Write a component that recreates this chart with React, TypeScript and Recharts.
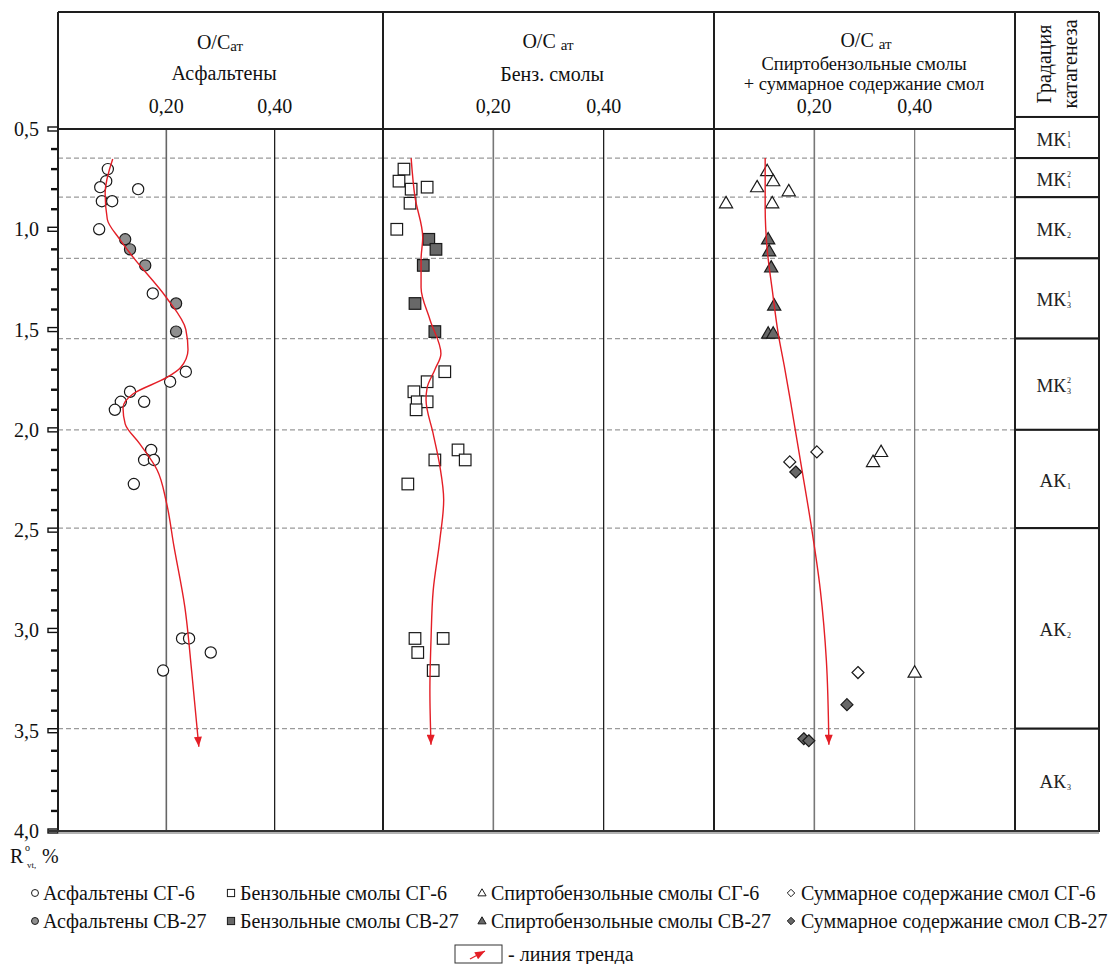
import React from 'react';
import { ScatterChart, Scatter, XAxis, YAxis, ReferenceLine, ReferenceArea } from 'recharts';

const SERIF = 'Liberation Serif, Times New Roman, serif';

// R°vt ticks (every 0.1, labelled every 0.5)
const yTicks = [
  0.5, 0.6, 0.7, 0.8, 0.9, 1.0, 1.1, 1.2, 1.3, 1.4, 1.5, 1.6, 1.7, 1.8, 1.9, 2.0, 2.1, 2.2,
  2.3, 2.4, 2.5, 2.6, 2.7, 2.8, 2.9, 3.0, 3.1, 3.2, 3.3, 3.4, 3.5, 3.6, 3.7, 3.8, 3.9, 4.0,
];
const xTicks = [0.2, 0.4];

// catagenesis zone boundaries (dashed lines)
const zoneBounds = [0.645, 0.84, 1.145, 1.545, 2.0, 2.49, 3.49];
const zoneName = ['МК', 'МК', 'МК', 'МК', 'МК', 'АК', 'АК', 'АК'];
const zoneSub = ['1', '1', '2', '3', '3', '1', '2', '3'];
const zoneSup = ['1', '2', '', '1', '2', '', '', ''];
const zoneTop = [0.44, 0.645, 0.84, 1.145, 1.545, 2.0, 2.49, 3.49];
const zoneBottom = [0.645, 0.84, 1.145, 1.545, 2.0, 2.49, 3.49, 4.0];

// asphaltenes
const asphSG6 = [
  { x: 0.092, r: 0.7 }, { x: 0.089, r: 0.76 }, { x: 0.078, r: 0.79 }, { x: 0.148, r: 0.8 },
  { x: 0.081, r: 0.86 }, { x: 0.1, r: 0.86 }, { x: 0.076, r: 1.0 }, { x: 0.175, r: 1.32 },
  { x: 0.236, r: 1.71 }, { x: 0.207, r: 1.76 }, { x: 0.133, r: 1.81 }, { x: 0.116, r: 1.86 },
  { x: 0.159, r: 1.86 }, { x: 0.105, r: 1.9 }, { x: 0.172, r: 2.1 }, { x: 0.159, r: 2.15 },
  { x: 0.177, r: 2.15 }, { x: 0.14, r: 2.27 }, { x: 0.229, r: 3.04 }, { x: 0.242, r: 3.04 },
  { x: 0.282, r: 3.11 }, { x: 0.194, r: 3.2 },
];
const asphSV27 = [
  { x: 0.124, r: 1.05 }, { x: 0.133, r: 1.1 }, { x: 0.161, r: 1.18 }, { x: 0.218, r: 1.37 },
  { x: 0.218, r: 1.51 },
];
const trendAsph = [
  { x: 0.101, r: 0.65 }, { x: 0.087, r: 0.82 }, { x: 0.091, r: 0.95 }, { x: 0.114, r: 1.05 },
  { x: 0.139, r: 1.14 }, { x: 0.2, r: 1.34 }, { x: 0.236, r: 1.5 }, { x: 0.24, r: 1.6 },
  { x: 0.226, r: 1.69 }, { x: 0.2, r: 1.74 }, { x: 0.139, r: 1.82 }, { x: 0.12, r: 1.89 },
  { x: 0.124, r: 1.97 }, { x: 0.151, r: 2.07 }, { x: 0.183, r: 2.2 }, { x: 0.2, r: 2.36 },
  { x: 0.214, r: 2.58 }, { x: 0.234, r: 2.88 }, { x: 0.247, r: 3.21 }, { x: 0.26, r: 3.58 },
];

// benzene resins
const benzSG6 = [
  { x: 0.038, r: 0.7 }, { x: 0.029, r: 0.76 }, { x: 0.08, r: 0.79 }, { x: 0.051, r: 0.8 },
  { x: 0.049, r: 0.87 }, { x: 0.025, r: 1.0 }, { x: 0.112, r: 1.71 }, { x: 0.08, r: 1.76 },
  { x: 0.056, r: 1.81 }, { x: 0.062, r: 1.86 }, { x: 0.08, r: 1.86 }, { x: 0.06, r: 1.9 },
  { x: 0.136, r: 2.1 }, { x: 0.149, r: 2.15 }, { x: 0.094, r: 2.15 }, { x: 0.045, r: 2.27 },
  { x: 0.058, r: 3.04 }, { x: 0.109, r: 3.04 }, { x: 0.063, r: 3.11 }, { x: 0.091, r: 3.2 },
];
const benzSV27 = [
  { x: 0.083, r: 1.05 }, { x: 0.096, r: 1.1 }, { x: 0.073, r: 1.18 }, { x: 0.058, r: 1.37 },
  { x: 0.094, r: 1.51 },
];
const trendBenz = [
  { x: 0.051, r: 0.645 }, { x: 0.058, r: 0.84 }, { x: 0.072, r: 1.04 }, { x: 0.069, r: 1.15 },
  { x: 0.069, r: 1.29 }, { x: 0.085, r: 1.45 }, { x: 0.105, r: 1.62 }, { x: 0.094, r: 1.7 },
  { x: 0.08, r: 1.79 }, { x: 0.078, r: 1.85 }, { x: 0.091, r: 2.02 }, { x: 0.103, r: 2.18 },
  { x: 0.11, r: 2.35 }, { x: 0.103, r: 2.55 }, { x: 0.091, r: 2.8 }, { x: 0.087, r: 3.05 },
  { x: 0.085, r: 3.3 }, { x: 0.087, r: 3.57 },
];

// alcohol-benzene resins + total resins
const spirtSG6 = [
  { x: 0.106, r: 0.71 }, { x: 0.118, r: 0.76 }, { x: 0.086, r: 0.79 }, { x: 0.149, r: 0.81 },
  { x: 0.024, r: 0.87 }, { x: 0.116, r: 0.87 }, { x: 0.333, r: 2.11 }, { x: 0.317, r: 2.16 },
  { x: 0.4, r: 3.21 },
];
const spirtSV27 = [
  { x: 0.108, r: 1.05 }, { x: 0.11, r: 1.11 }, { x: 0.114, r: 1.19 }, { x: 0.12, r: 1.38 },
  { x: 0.108, r: 1.52 }, { x: 0.118, r: 1.52 },
];
const sumSG6 = [{ x: 0.205, r: 2.11 }, { x: 0.151, r: 2.16 }, { x: 0.287, r: 3.21 }];
const sumSV27 = [
  { x: 0.163, r: 2.21 }, { x: 0.265, r: 3.37 }, { x: 0.179, r: 3.54 }, { x: 0.189, r: 3.55 },
];
const trendSpirt = [
  { x: 0.102, r: 0.645 }, { x: 0.102, r: 0.89 }, { x: 0.106, r: 1.1 }, { x: 0.116, r: 1.3 },
  { x: 0.128, r: 1.52 }, { x: 0.14, r: 1.68 }, { x: 0.154, r: 1.88 }, { x: 0.172, r: 2.15 },
  { x: 0.192, r: 2.45 }, { x: 0.212, r: 2.8 }, { x: 0.224, r: 3.15 }, { x: 0.229, r: 3.57 },
];

const legendRow1 = ['Асфальтены СГ-6', 'Бензольные смолы СГ-6', 'Спиртобензольные смолы СГ-6', 'Суммарное содержание смол СГ-6'];
const legendRow2 = ['Асфальтены СВ-27', 'Бензольные смолы СВ-27', 'Спиртобензольные смолы СВ-27', 'Суммарное содержание смол СВ-27'];
const legendKinds = ['circle', 'square', 'triangle', 'diamond'];

const WHITE = '#ffffff';
const GRAY_CIRCLE = '#8f8f8f';
const GRAY_DARK = '#686868';
const RED = '#e41e26';

const CH = 852;
const MARGIN = { top: 12, right: 0, bottom: 21, left: 0 };

function symbol(kind: string, cx: number, cy: number, s: number, fill: string, sw = 1.2) {
  const stroke = '#1a1a1a';
  if (kind === 'circle') return <circle cx={cx} cy={cy} r={5.6 * s} fill={fill} stroke={stroke} strokeWidth={sw} />;
  if (kind === 'square') {
    const h = 5.8 * s;
    return <rect x={cx - h} y={cy - h} width={2 * h} height={2 * h} fill={fill} stroke={stroke} strokeWidth={sw} />;
  }
  if (kind === 'triangle') {
    const w = 6.6 * s;
    return (
      <polygon
        points={`${cx},${cy - 6.8 * s} ${cx + w},${cy + 4.6 * s} ${cx - w},${cy + 4.6 * s}`}
        fill={fill} stroke={stroke} strokeWidth={sw}
      />
    );
  }
  const d = 6 * s;
  return (
    <polygon points={`${cx},${cy - d} ${cx + d},${cy} ${cx},${cy + d} ${cx - d},${cy}`} fill={fill} stroke={stroke} strokeWidth={sw} />
  );
}

const shapeOf = (kind: string, fill: string) => (p: any) => symbol(kind, p.cx, p.cy, 1, fill);
const noShape = () => <g />;

const fmt = (v: number, digits: number) => v.toFixed(digits).replace('.', ',');

const topTick = (props: any) => (
  <text x={props.x} y={113} textAnchor="middle" fontSize={20} fontFamily={SERIF} fill="#111">
    {fmt(props.payload.value, 2)}
  </text>
);

const yTick = (props: any) => {
  const v = props.payload.value;
  const y = props.y;
  const major = Math.abs(v * 2 - Math.round(v * 2)) < 1e-6;
  if (major) {
    return (
      <g>
        <rect x={48} y={y - 2} width={10} height={4} fill="#fff" stroke="#111" strokeWidth={1.4} />
        <text x={39} y={y + 7} textAnchor="end" fontSize={20} fontFamily={SERIF} fill="#111">
          {fmt(v, 1)}
        </text>
      </g>
    );
  }
  return <rect x={51} y={y - 1.2} width={7} height={2.4} fill="#111" />;
};

function Panel({
  width, withAxis, gridColors, children,
}: { width: number; withAxis: boolean; gridColors: string[]; children: React.ReactNode }) {
  return (
    <ScatterChart width={width} height={CH} margin={MARGIN}>
      <XAxis
        type="number" dataKey="x" domain={[0, 0.6]} ticks={xTicks} orientation="top" height={117}
        axisLine={false} tickLine={false} tick={topTick} allowDataOverflow
      />
      <YAxis
        type="number" dataKey="r" domain={[0.5, 4.0]} reversed ticks={yTicks} interval={0}
        width={withAxis ? 58 : 0} hide={!withAxis} axisLine={false} tickLine={false} tick={yTick}
        allowDataOverflow
      />
      {zoneBounds.map((b) => (
        <ReferenceLine key={b} y={b} stroke="#9a9a9a" strokeDasharray="5 3" strokeWidth={1.2} />
      ))}
      {xTicks.map((t, i) => (
        <ReferenceLine key={t} x={t} stroke={gridColors[i]} strokeWidth={i === 0 ? 1.6 : 1.2} />
      ))}
      {children}
    </ScatterChart>
  );
}

const trendLine = { stroke: RED, strokeWidth: 1.4, markerEnd: 'url(#trendArrow)' };

const zoneShape = (i: number) => (p: any) => {
  const cx = p.x + p.width / 2;
  const cy = p.y + p.height / 2;
  return (
    <g>
      <rect x={p.x} y={p.y} width={p.width} height={p.height} fill="#fff" stroke="#1a1a1a" strokeWidth={2} />
      <text x={cx + 9} y={cy + 8} textAnchor="end" fontSize={19} fontFamily={SERIF} fill="#222">
        {zoneName[i]}
      </text>
      {zoneSup[i] && (
        <text x={cx + 10} y={cy - 1} fontSize={8} fontFamily={SERIF} fill="#222">{zoneSup[i]}</text>
      )}
      <text x={cx + 10} y={cy + 10} fontSize={8} fontFamily={SERIF} fill="#222">{zoneSub[i]}</text>
    </g>
  );
};

// anchor points so the zone column gets real scales
const zoneAnchors = zoneBottom.map((b) => ({ x: 0.5, r: b }));

const legendMarkerX = [35, 231, 482, 791];
const legendTextX = [43, 240, 491, 801];

export default function App() {
  return (
    <div style={{ position: 'absolute', left: 0, top: 0, width: 1115, height: 964, background: '#fff', fontFamily: SERIF }}>
      <svg width={0} height={0} style={{ position: 'absolute' }}>
        <defs>
          <marker id="trendArrow" viewBox="0 0 10 8" refX={10} refY={4} markerWidth={11} markerHeight={8}
            markerUnits="userSpaceOnUse" orient="auto">
            <path d="M0,0 L10,4 L0,8 z" fill={RED} />
          </marker>
        </defs>
      </svg>

      <div style={{ position: 'absolute', left: 0, top: 0 }}>
        <Panel width={383} withAxis gridColors={['#666', '#111']}>
          <Scatter data={asphSG6} shape={shapeOf('circle', WHITE)} isAnimationActive={false} />
          <Scatter data={asphSV27} shape={shapeOf('circle', GRAY_CIRCLE)} isAnimationActive={false} />
          <Scatter data={trendAsph} shape={noShape} line={trendLine} lineJointType="monotoneY" isAnimationActive={false} />
        </Panel>
      </div>
      <div style={{ position: 'absolute', left: 383, top: 0 }}>
        <Panel width={331} withAxis={false} gridColors={['#777', '#111']}>
          <Scatter data={benzSG6} shape={shapeOf('square', WHITE)} isAnimationActive={false} />
          <Scatter data={benzSV27} shape={shapeOf('square', GRAY_DARK)} isAnimationActive={false} />
          <Scatter data={trendBenz} shape={noShape} line={trendLine} lineJointType="monotoneY" isAnimationActive={false} />
        </Panel>
      </div>
      <div style={{ position: 'absolute', left: 714, top: 0 }}>
        <Panel width={301} withAxis={false} gridColors={['#777', '#777']}>
          <Scatter data={spirtSG6} shape={shapeOf('triangle', WHITE)} isAnimationActive={false} />
          <Scatter data={spirtSV27} shape={shapeOf('triangle', GRAY_DARK)} isAnimationActive={false} />
          <Scatter data={sumSG6} shape={shapeOf('diamond', WHITE)} isAnimationActive={false} />
          <Scatter data={sumSV27} shape={shapeOf('diamond', GRAY_DARK)} isAnimationActive={false} />
          <Scatter data={trendSpirt} shape={noShape} line={trendLine} lineJointType="monotoneY" isAnimationActive={false} />
        </Panel>
      </div>
      <div style={{ position: 'absolute', left: 1015, top: 0 }}>
        <ScatterChart width={84} height={CH} margin={{ top: 129, right: 0, bottom: 21, left: 0 }}>
          <XAxis type="number" dataKey="x" domain={[0, 1]} hide />
          <YAxis type="number" dataKey="r" domain={[0.5, 4.0]} reversed hide width={0} allowDataOverflow />
          {zoneTop.map((t, i) => (
            <ReferenceArea key={i} y1={t} y2={zoneBottom[i]} ifOverflow="visible" shape={zoneShape(i)} />
          ))}
          <Scatter data={zoneAnchors} shape={noShape} isAnimationActive={false} />
        </ScatterChart>
      </div>

      <svg width={1115} height={964} style={{ position: 'absolute', left: 0, top: 0, pointerEvents: 'none' }}
        fontFamily={SERIF} fill="#111">
        {/* frame */}
        <g stroke="#1e1e1e" strokeWidth={2} fill="none">
          <line x1={58} y1={12} x2={1099} y2={12} />
          <line x1={58} y1={129} x2={1015} y2={129} />
          <line x1={58} y1={12} x2={58} y2={832} />
          <line x1={383} y1={12} x2={383} y2={832} />
          <line x1={714} y1={12} x2={714} y2={832} />
          <line x1={1015} y1={12} x2={1015} y2={832} />
          <line x1={1099} y1={12} x2={1099} y2={832} />
        </g>
        <line x1={48} y1={831} x2={1099} y2={831} stroke="#333" strokeWidth={2} />
        <line x1={58} y1={833} x2={1099} y2={833} stroke="#999" strokeWidth={1.5} />

        {/* headers */}
        <text x={220} y={49} textAnchor="middle" fontSize={20}>O/C<tspan fontSize={15} dy={2}>ат</tspan></text>
        <text x={224} y={80} textAnchor="middle" fontSize={20}>Асфальтены</text>
        <text x={548} y={48} textAnchor="middle" fontSize={20}>O/C <tspan fontSize={15} dy={2}>ат</tspan></text>
        <text x={552} y={81} textAnchor="middle" fontSize={20}>Бенз. смолы</text>
        <text x={866} y={47} textAnchor="middle" fontSize={20}>O/C <tspan fontSize={15} dy={2}>ат</tspan></text>
        <text x={864} y={70} textAnchor="middle" fontSize={18.5}>Спиртобензольные смолы</text>
        <text x={864} y={90} textAnchor="middle" fontSize={18.5}>+ суммарное содержание смол</text>
        <text x={1051} y={64} textAnchor="middle" fontSize={20} transform="rotate(-90 1051 64)">Градация</text>
        <text x={1077} y={64} textAnchor="middle" fontSize={20} transform="rotate(-90 1077 64)">катагенеза</text>

        {/* axis title */}
        <text x={10} y={863} fontSize={20}>R</text>
        <text x={25} y={851} fontSize={10}>o</text>
        <text x={27} y={868} fontSize={9}>vt,</text>
        <text x={42} y={863} fontSize={20}>%</text>

        {/* legend */}
        {legendRow1.map((label, i) => (
          <g key={label}>
            {symbol(legendKinds[i], legendMarkerX[i], 893, 0.62, WHITE, 1)}
            <text x={legendTextX[i]} y={900} fontSize={20}>{label}</text>
          </g>
        ))}
        {legendRow2.map((label, i) => (
          <g key={label}>
            {symbol(legendKinds[i], legendMarkerX[i], 921, 0.62, i === 0 ? GRAY_CIRCLE : GRAY_DARK, 1)}
            <text x={legendTextX[i]} y={928} fontSize={20}>{label}</text>
          </g>
        ))}
        <rect x={455} y={945} width={47} height={18} fill="#fff" stroke="#333" strokeWidth={1} />
        <line x1={470} y1={959} x2={485} y2={951} stroke={RED} strokeWidth={1.2} markerEnd="url(#trendArrow)" />
        <text x={508} y={961} fontSize={20}>- линия тренда</text>
      </svg>
    </div>
  );
}
